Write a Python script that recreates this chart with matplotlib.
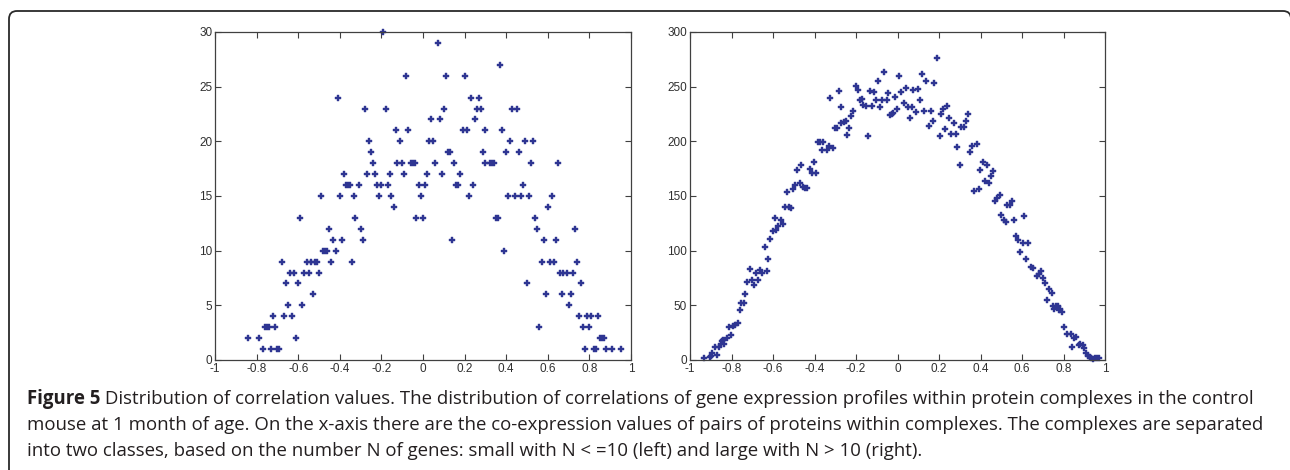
import matplotlib
matplotlib.use('Agg')
import matplotlib.pyplot as plt
from matplotlib.patches import FancyBboxPatch

# Left panel: complexes with N <= 10 genes (y values are counts)
left_x = [-0.19,
          0.07,
          0.37,
          -0.08, 0.11, 0.20,
          -0.41, 0.23, 0.27,
          -0.28, -0.18, 0.10, 0.26, 0.28, 0.43, 0.45,
          0.04, 0.08, 0.25,
          -0.13, -0.07, 0.19, 0.21, 0.30, 0.38,
          -0.26, -0.11, 0.03, 0.05, 0.42, 0.49, 0.53,
          -0.25, 0.12, 0.13, 0.29, 0.40, 0.46,
          -0.24, -0.125, -0.10, -0.06, -0.05, -0.037, 0.06, 0.15, 0.30, 0.32, 0.33, 0.34, 0.52, 0.65,
          -0.38, -0.27, -0.23, -0.16, -0.09, 0.02, 0.09, 0.18,
          -0.37, -0.36, -0.35, -0.31, -0.22, -0.20, -0.17, -0.02, 0.01, 0.16, 0.17, 0.24, 0.48,
          -0.49, -0.40, -0.33, -0.21, -0.155, -0.01, 0.22, 0.41, 0.44, 0.47, 0.51, 0.62,
          -0.14, 0.60,
          -0.59, -0.325, -0.034, 0.0, 0.35, 0.36, 0.54,
          -0.45, -0.30, 0.55, 0.73,
          -0.435, -0.39, -0.29, 0.14, 0.58, 0.64,
          -0.48, -0.47, -0.46, -0.42, 0.39,
          -0.68, -0.56, -0.54, -0.52, -0.51, -0.44, -0.34, 0.57, 0.61, 0.63, 0.74,
          -0.64, -0.62, -0.57, -0.55, -0.50, 0.66, 0.675, 0.69, 0.72,
          -0.66, -0.60, 0.50, 0.76,
          -0.53, 0.59, 0.67, 0.71,
          -0.65, -0.58, 0.70,
          -0.72, -0.67, -0.63, 0.75, 0.79, 0.81, 0.84,
          -0.76, -0.75, -0.74, -0.71, 0.56, 0.77, 0.80,
          -0.84, -0.79, -0.61, 0.85, 0.86, 0.87,
          -0.77, -0.73, -0.70, -0.69, 0.78, 0.82, 0.83, 0.88, 0.91, 0.95]
left_y = ([30] + [29] + [27] + [26] * 3 + [24] * 3 + [23] * 7 + [22] * 3 + [21] * 6
          + [20] * 7 + [19] * 6 + [18] * 14 + [17] * 8 + [16] * 13 + [15] * 12 + [14] * 2
          + [13] * 7 + [12] * 4 + [11] * 6 + [10] * 5 + [9] * 11 + [8] * 9 + [7] * 4
          + [6] * 4 + [5] * 3 + [4] * 7 + [3] * 7 + [2] * 6 + [1] * 10)

# Right panel: complexes with N > 10 genes
right_x = [-0.531, -0.504, -0.494, -0.470, -0.454, -0.446, -0.435, -0.483, -0.464, -0.421,
           -0.410, -0.394, -0.402, -0.384, -0.373, -0.360, -0.362, -0.341, -0.331, -0.310,
           -0.323, -0.302, -0.293, -0.283, -0.272, -0.270, -0.258, -0.250, -0.242, -0.232,
           -0.224, -0.214, -0.200, -0.190, -0.182, -0.171, -0.165, -0.154, -0.141, -0.133,
           -0.123, -0.112, -0.104, -0.094, -0.082, -0.075, -0.064, -0.053, -0.045, -0.037,
           -0.027, -0.021, -0.011, -0.002, 0.008, 0.018, 0.031, 0.040, 0.050, 0.069,
           0.060, 0.077, 0.100, 0.090, 0.109, 0.119, 0.127, 0.137, 0.151, 0.161,
           0.169, 0.178, 0.188, 0.203, 0.211, 0.220, 0.238, 0.230, 0.247, 0.260,
           0.280, 0.270, 0.289, 0.299, 0.305, 0.320, 0.331, 0.339, 0.349, 0.358,
           0.383, 0.370, 0.392, 0.399, 0.410, 0.420, 0.432, 0.442, 0.450, 0.461,
           0.479, 0.492,
           0.469, 0.500, 0.511, 0.521, 0.529, 0.540, 0.551, 0.563, 0.612, 0.571,
           0.580, 0.588, 0.603, 0.630, 0.620, 0.643, 0.654, 0.672, 0.682, 0.690,
           0.699, 0.709, 0.731, 0.743, 0.722, 0.749, 0.755, 0.762, 0.772, 0.778,
           0.784, 0.792, 0.804, 0.818, 0.834, 0.842, 0.852, 0.862, 0.873, 0.881,
           0.892, 0.900, 0.910, 0.918, 0.926, 0.934, 0.942, 0.952, 0.961, 0.969,
           -0.541, -0.525, -0.514, -0.592, -0.563, -0.600, -0.584, -0.574, -0.554, -0.614,
           -0.640, -0.624, -0.712, -0.664, -0.651, -0.630, -0.683, -0.702, -0.674, -0.723,
           -0.691, -0.733, -0.752, -0.742, -0.760, -0.771, -0.784, -0.794, -0.811, -0.803,
           -0.821, -0.840, -0.846, -0.853, -0.834, -0.861, -0.880, -0.870, -0.894, -0.899,
           -0.906, -0.931]
right_y = [154, 156, 160, 162, 158, 157, 157, 174, 178, 175,
           171, 171, 181, 199, 199, 199, 192, 192, 196, 194,
           240, 212, 212, 246, 231, 217, 218, 219, 206, 212,
           223, 228, 251, 247, 238, 239, 233, 232, 205, 246,
           232, 245, 238, 255, 231, 238, 263, 238, 244, 224,
           225, 226, 241, 230, 260, 245, 235, 249, 231, 231,
           221, 247, 248, 227, 238, 262, 228, 255, 214, 228,
           219, 253, 276, 205, 225, 230, 232, 211, 221, 207,
           207, 217, 195, 178, 213, 213, 219, 225, 190, 196,
           198, 155, 156, 174, 181, 164, 178, 162, 168, 173,
           148, 151,
           145, 133, 128, 126, 142, 142, 145, 128, 132, 113,
           110, 99, 107, 107, 92, 85, 84, 77, 79, 81,
           75, 70, 65, 61, 55, 49, 47, 49, 49, 46,
           47, 44, 30, 24, 24, 12, 20, 21, 14, 15,
           14, 11, 6, 4, 3, 2, 1, 1.5, 1.5, 1.5,
           140, 140, 139, 130, 128, 118, 119, 123, 124, 111,
           103, 92, 83, 82, 80, 81, 80, 73, 73, 71,
           69, 60, 52, 52, 46, 34, 32, 31, 30, 23,
           20, 18, 17, 15, 15, 12, 12, 5, 6, 4,
           3, 1.5]

x_ticks = [-1, -0.8, -0.6, -0.4, -0.2, 0, 0.2, 0.4, 0.6, 0.8, 1]
x_ticklabels = ['-1', '-0.8', '-0.6', '-0.4', '-0.2', '0', '0.2', '0.4', '0.6', '0.8', '1']
left_yticks = [0, 5, 10, 15, 20, 25, 30]
right_yticks = [0, 50, 100, 150, 200, 250, 300]

caption_bold = 'Figure 5'
caption_lines = [
    ' Distribution of correlation values. The distribution of correlations of gene expression profiles within protein complexes in the control',
    'mouse at 1 month of age. On the x-axis there are the co-expression values of pairs of proteins within complexes. The complexes are separated',
    'into two classes, based on the number N of genes: small with N < =10 (left) and large with N > 10 (right).',
]

W, H = 1290, 470
fig = plt.figure(figsize=(W / 100, H / 100), dpi=100)

dot_color = '#2e3592'
axis_color = '#404040'

def make_panel(rect, xs, ys, yticks):
    ax = fig.add_axes(rect)
    ax.plot(xs, ys, linestyle='none', marker='P', markersize=3.8,
            markeredgewidth=0.3, color=dot_color, clip_on=False)
    ax.set_xlim(-1, 1)
    ax.set_ylim(yticks[0], yticks[-1])
    ax.set_xticks(x_ticks)
    ax.set_xticklabels(x_ticklabels)
    ax.set_yticks(yticks)
    ax.tick_params(direction='in', top=True, right=True, length=4, width=0.8,
                   labelsize=8.5, colors=axis_color, pad=2)
    for sp in ax.spines.values():
        sp.set_color(axis_color)
        sp.set_linewidth(0.9)
    for lab in ax.get_xticklabels() + ax.get_yticklabels():
        lab.set_fontfamily('Liberation Sans')
        lab.set_color('#303030')
    return ax

ax1 = make_panel([215 / W, 1 - 360 / H, 416 / W, 328 / H], left_x, left_y, left_yticks)
ax2 = make_panel([690 / W, 1 - 360 / H, 415 / W, 328 / H], right_x, right_y, right_yticks)

# frame round the figure (pixel coords)
frame = FancyBboxPatch((9, -20), 1282, H - 11 + 20,
                       boxstyle='round,pad=0,rounding_size=8',
                       transform=None, fill=False, edgecolor='#2a2a2a', linewidth=1.3)
fig.patches.append(frame)

# caption
cap_x = 27 / W
cap_ys = [1 - 399 / H, 1 - 425 / H, 1 - 451 / H]
cap_kw = dict(fontfamily='Open Sans', fontsize=13.4, color='#231f20', va='center')
bold = fig.text(cap_x, cap_ys[0], caption_bold, fontweight='bold', **cap_kw)
fig.canvas.draw()
bb = bold.get_window_extent(renderer=fig.canvas.get_renderer())
fig.text(bb.x1 / W, cap_ys[0], caption_lines[0], **cap_kw)
for y, line in zip(cap_ys[1:], caption_lines[1:]):
    fig.text(cap_x, y, line, **cap_kw)

fig.savefig('out.png', dpi=100)
